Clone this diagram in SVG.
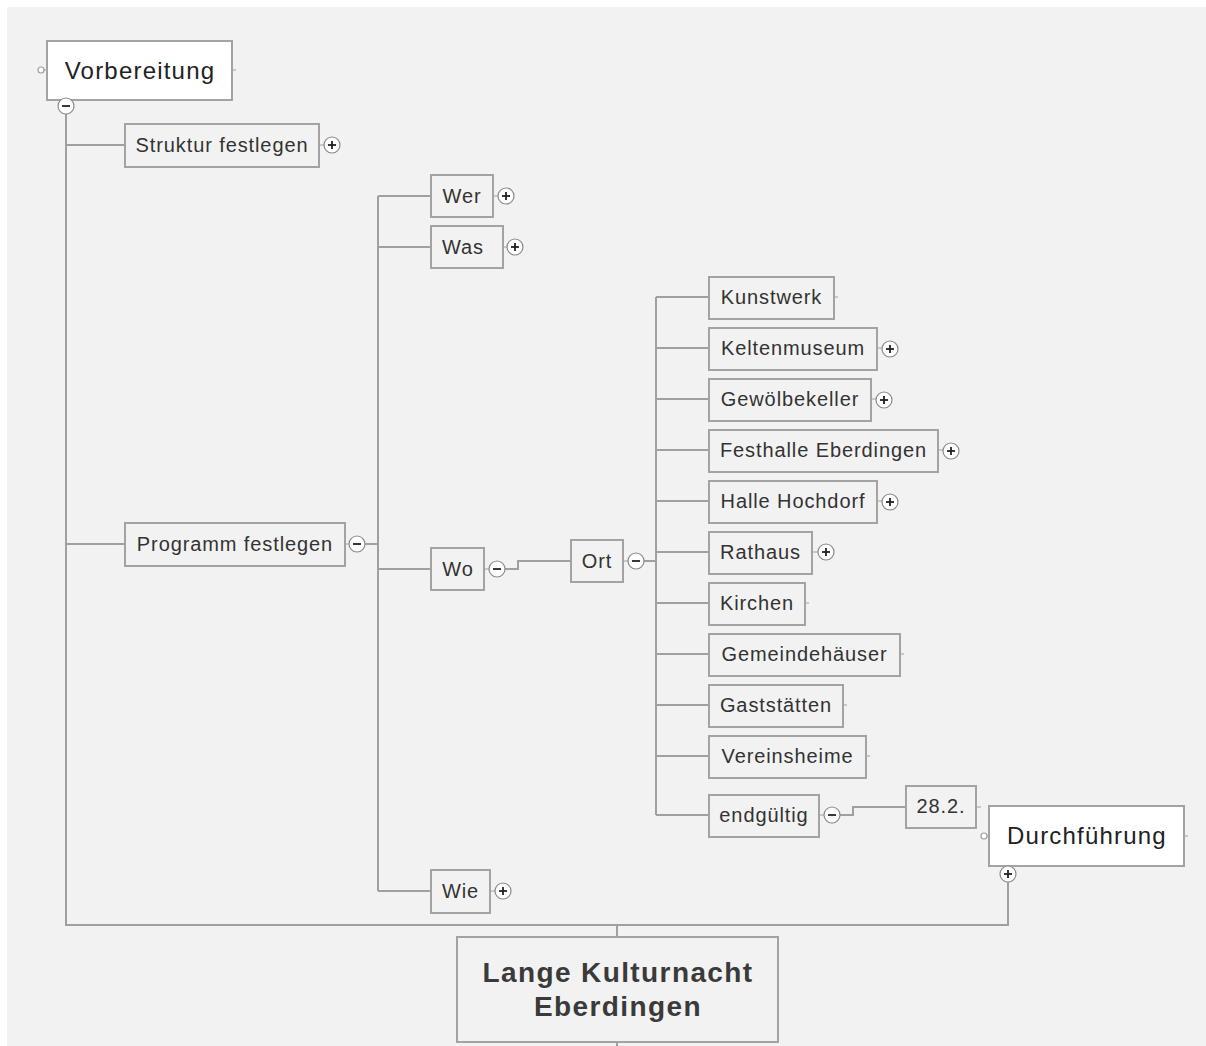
<svg xmlns="http://www.w3.org/2000/svg" width="1206" height="1046" viewBox="0 0 1206 1046">
<defs>
<style>
.bg{fill:#f2f2f2}
.box{fill:#f2f2f2;stroke:#a3a3a3;stroke-width:2}
.main{fill:#ffffff;stroke:#a3a3a3;stroke-width:2}
.ln{fill:none;stroke:#a0a0a0;stroke-width:2}
.t{font-family:"Liberation Sans",Arial,sans-serif;font-size:20px;letter-spacing:0.9px;fill:#333;text-anchor:middle}
.tm{font-family:"Liberation Sans",Arial,sans-serif;font-size:24px;letter-spacing:1.2px;fill:#222;text-anchor:middle}
.tr{font-family:"Liberation Sans",Arial,sans-serif;font-size:28px;letter-spacing:1.4px;font-weight:bold;fill:#3a3a3a;text-anchor:middle}
.btn{fill:#ffffff;stroke:#8a8a8a;stroke-width:1.2}
.sg{stroke:#222;stroke-width:1.8}
.dot{fill:#ffffff;stroke:#a0a0a0;stroke-width:1.2}
</style>
<g id="plus"><circle class="btn" cx="0" cy="0" r="8"/><line class="sg" x1="-4" y1="0" x2="4" y2="0"/><line class="sg" x1="0" y1="-4" x2="0" y2="4"/></g>
<g id="minus"><circle class="btn" cx="0" cy="0" r="8"/><line class="sg" x1="-4" y1="0" x2="4" y2="0"/></g>
</defs>
<rect x="0" y="0" width="1206" height="1046" fill="#ffffff"/>
<rect class="bg" x="7" y="7" width="1199" height="1039"/>

<g id="connectors">
<path class="ln" d="M66 114 V925 H1008 V882"/>
<path class="ln" d="M617 925 V937 M617 1042 V1046"/>
<path class="ln" d="M66 145 H125"/>
<path class="ln" d="M66 544 H125"/>
<path class="ln" d="M365 544 H378"/>
<path class="ln" d="M378 196 V891"/>
<path class="ln" d="M378 196 H431 M378 247 H431 M378 569 H431 M378 891 H431"/>
<path class="ln" d="M505 569 H518 V561 H571"/>
<path class="ln" d="M644 561 H656"/>
<path class="ln" d="M656 297 V815"/>
<path class="ln" d="M656 297 H709 M656 348 H709 M656 399 H709 M656 450 H709 M656 501 H709 M656 552 H709 M656 603 H709 M656 654 H709 M656 705 H709 M656 756 H709 M656 815 H709"/>
<path class="ln" d="M840 815 H853 V807 H906"/>
<path class="ln" style="stroke-width:1.2" d="M232 70 H236 M319 145 H324 M345 544 H349 M493 196 H498 M503 247 H507 M484 569 H489 M623 561 H628 M834 297 H838 M877 348 H882 M871 399 H876 M938 450 H943 M877 501 H882 M812 552 H818 M805 603 H809 M900 654 H904 M843 705 H847 M866 756 H870 M819 815 H824 M976 807 H981 M1184 836 H1188 M490 891 H495 M43 70 H47 M986 836 H989"/>
</g>

<g id="vorbereitung">
<rect class="main" x="47" y="41" width="185" height="59"/>
<text class="tm" x="140" y="79">Vorbereitung</text>
<circle class="dot" cx="41" cy="70" r="3"/>
<use href="#minus" x="66" y="106"/>
</g>

<g id="struktur">
<rect class="box" x="125" y="124" width="194" height="43"/>
<text class="t" x="222" y="152">Struktur festlegen</text>
<use href="#plus" x="332" y="145"/>
</g>

<g id="programm">
<rect class="box" x="125" y="523" width="220" height="43"/>
<text class="t" x="235" y="551">Programm festlegen</text>
<use href="#minus" x="357" y="544"/>
</g>

<g id="wer">
<rect class="box" x="431" y="175" width="62" height="42"/>
<text class="t" x="462" y="203">Wer</text>
<use href="#plus" x="506" y="196"/>
</g>

<g id="was">
<rect class="box" x="431" y="226" width="72" height="42"/>
<text class="t" x="463" y="254">Was</text>
<use href="#plus" x="515" y="247"/>
</g>

<g id="wo">
<rect class="box" x="431" y="548" width="53" height="42"/>
<text class="t" x="458" y="576">Wo</text>
<use href="#minus" x="497" y="569"/>
</g>

<g id="wie">
<rect class="box" x="431" y="870" width="59" height="43"/>
<text class="t" x="460.5" y="898">Wie</text>
<use href="#plus" x="503" y="891"/>
</g>

<g id="ort">
<rect class="box" x="571" y="540" width="52" height="42"/>
<text class="t" x="597" y="568">Ort</text>
<use href="#minus" x="636" y="561"/>
</g>

<g id="kunstwerk">
<rect class="box" x="709" y="277" width="125" height="42"/>
<text class="t" x="771.5" y="304">Kunstwerk</text>
</g>

<g id="keltenmuseum">
<rect class="box" x="709" y="328" width="168" height="42"/>
<text class="t" x="793" y="355">Keltenmuseum</text>
<use href="#plus" x="890" y="349"/>
</g>

<g id="gewoelbekeller">
<rect class="box" x="709" y="379" width="162" height="42"/>
<text class="t" x="790" y="406">Gewölbekeller</text>
<use href="#plus" x="884" y="400"/>
</g>

<g id="festhalle">
<rect class="box" x="709" y="430" width="229" height="42"/>
<text class="t" x="823.5" y="457">Festhalle Eberdingen</text>
<use href="#plus" x="951" y="451"/>
</g>

<g id="hallehochdorf">
<rect class="box" x="709" y="481" width="168" height="42"/>
<text class="t" x="793" y="508">Halle Hochdorf</text>
<use href="#plus" x="890" y="502"/>
</g>

<g id="rathaus">
<rect class="box" x="709" y="532" width="103" height="42"/>
<text class="t" x="760.5" y="559">Rathaus</text>
<use href="#plus" x="826" y="552"/>
</g>

<g id="kirchen">
<rect class="box" x="709" y="583" width="96" height="42"/>
<text class="t" x="757" y="610">Kirchen</text>
</g>

<g id="gemeindehaeuser">
<rect class="box" x="709" y="634" width="191" height="42"/>
<text class="t" x="804.5" y="661">Gemeindehäuser</text>
</g>

<g id="gaststaetten">
<rect class="box" x="709" y="685" width="134" height="42"/>
<text class="t" x="776" y="712">Gaststätten</text>
</g>

<g id="vereinsheime">
<rect class="box" x="709" y="736" width="157" height="42"/>
<text class="t" x="787.5" y="763">Vereinsheime</text>
</g>

<g id="endgueltig">
<rect class="box" x="709" y="795" width="110" height="42"/>
<text class="t" x="764" y="822">endgültig</text>
<use href="#minus" x="832" y="815"/>
</g>

<g id="datum">
<rect class="box" x="906" y="786" width="70" height="42"/>
<text class="t" x="941" y="813">28.2.</text>
</g>

<g id="durchfuehrung">
<rect class="main" x="989" y="806" width="195" height="60"/>
<text class="tm" x="1087" y="844">Durchführung</text>
<circle class="dot" cx="984" cy="836" r="3"/>
<use href="#plus" x="1008" y="874"/>
</g>

<g id="root">
<rect class="box" x="457" y="937" width="321" height="105"/>
<text class="tr" x="618" y="982">Lange Kulturnacht</text>
<text class="tr" x="618" y="1016">Eberdingen</text>
</g>
</svg>
